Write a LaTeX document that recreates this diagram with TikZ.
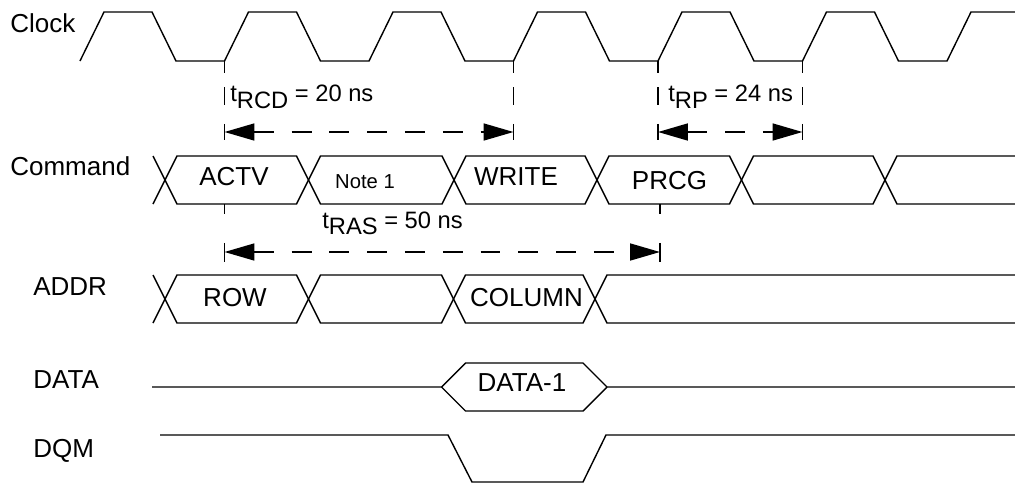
\documentclass[tikz,border=0pt]{standalone}
\usepackage{fontspec}
\setmainfont{Liberation Sans}
\usetikzlibrary{arrows.meta}

\begin{document}
\begin{tikzpicture}[
  x=0.02cm, y=-0.02cm,
  font=\fontsize{14.8}{17}\selectfont, >={Triangle[length=17pt,width=9.6pt]},
  sig/.style={anchor=base west, inner sep=0pt},
  val/.style={anchor=base, inner sep=0pt},
  tnote/.style={anchor=base west, inner sep=0pt, font=\fontsize{13.5}{16}\selectfont},
  wave/.style={line width=0.8pt, line join=miter},
  guide/.style={line width=1.1pt, dash pattern=on 6.8pt off 8pt on 10pt off 11pt on 10pt off 5pt},
  shortguide/.style={line width=1.1pt, dash pattern=on 5.7pt off 16.4pt on 11.3pt off 10pt},
  span/.style={<->, line width=1.1pt, dash pattern=on 11.3pt off 10.2pt},
]
\useasboundingbox (0,0) rectangle (1015,484);

% signal names
\node[sig] (clk)  at (10,32)  {Clock};
\node[sig] (cmd)  at (10,175) {Command};
\node[sig] (addr) at (33,295) {ADDR};
\node[sig] (data) at (33,388) {DATA};
\node[sig] (dqm)  at (33,457) {DQM};

% clock
\draw[wave] (80,61) -- (104,12) -- (152,12) -- (176,61) -- (224.5,61)
  -- (248.5,12) -- (296.5,12) -- (320.5,61) -- (369,61)
  -- (393,12) -- (441,12) -- (465,61) -- (513.5,61)
  -- (537.5,12) -- (585.5,12) -- (609.5,61) -- (658,61)
  -- (682,12) -- (730,12) -- (754,61) -- (802.5,61)
  -- (826.5,12) -- (874.5,12) -- (898.5,61) -- (947,61)
  -- (971,12) -- (1015,12);

% command bus
\draw[wave] (153,204) -- (177,156) -- (296.5,156) -- (320.5,204) -- (442,204) -- (466,156)
  -- (585,156) -- (609,204) -- (729.5,204) -- (753.5,156) -- (873,156) -- (897,204) -- (1015,204);
\draw[wave] (153,156) -- (177,204) -- (296.5,204) -- (320.5,156) -- (442,156) -- (466,204)
  -- (585,204) -- (609,156) -- (729.5,156) -- (753.5,204) -- (873,204) -- (897,156) -- (1015,156);
\node[val] (actv)  at (234,185)   {ACTV};
\node[val, font=\fontsize{11.5}{13}\selectfont] (note1) at (365,188) {Note 1};
\node[val] (write) at (516,185)   {WRITE};
\node[val] (prcg)  at (669.5,189) {PRCG};

% address bus
\draw[wave] (153,323) -- (177,275) -- (296.5,275) -- (320.5,323) -- (441.5,323) -- (465.5,275)
  -- (583,275) -- (607,323) -- (1015,323);
\draw[wave] (153,275) -- (177,323) -- (296.5,323) -- (320.5,275) -- (441.5,275) -- (465.5,323)
  -- (583,323) -- (607,275) -- (1015,275);
\node[val] (row)    at (235,306.5) {ROW};
\node[val] (column) at (526.5,306.5) {COLUMN};

% data
\draw[wave] (152,387) -- (441.5,387) -- (465.5,363) -- (583,363) -- (607,387) -- (1015,387);
\draw[wave] (441.5,387) -- (465.5,411) -- (583,411) -- (607,387);
\node[val] (data1) at (522,391.5) {DATA-1};

% dqm
\draw[wave] (160,435) -- (448,435) -- (472,482) -- (583,482) -- (606,435) -- (1015,435);

% timing
\coordinate (r1top) at (224.5,61);  \coordinate (r1bot) at (224.5,140);
\coordinate (r3top) at (513.5,61);  \coordinate (r3bot) at (513.5,140);
\coordinate (r4top) at (658,61);    \coordinate (r4bot) at (658,140);
\coordinate (r5top) at (802.5,61);  \coordinate (r5bot) at (802.5,140);
\coordinate (rcdL) at (224.5,132);  \coordinate (rcdR) at (513.5,132);
\coordinate (rpL)  at (658,132);    \coordinate (rpR)  at (802.5,132);
\coordinate (a1top) at (224.5,204); \coordinate (a1bot) at (224.5,262);
\coordinate (a2top) at (660,204);   \coordinate (a2bot) at (660,262);
\coordinate (rasL) at (224.5,252);  \coordinate (rasR) at (660,252);

\draw[guide] (r1top) -- (r1bot);
\draw[guide] (r3top) -- (r3bot);
\draw[guide] (r4top) -- (r4bot);
\draw[guide] (r5top) -- (r5bot);
\draw[shortguide] (a1top) -- (a1bot);
\draw[shortguide] (a2top) -- (a2bot);
\draw[span] (rcdL) -- (rcdR);
\draw[span] (rpL) -- (rpR);
\draw[span] (rasL) -- (rasR);

\node[tnote] (trcd) at (230,101.5) {t\raisebox{-0.55ex}{RCD} = 20 ns};
\node[tnote] (trp)  at (668,101.5) {t\raisebox{-0.55ex}{RP} = 24 ns};
\node[tnote] (tras) at (322,228)   {t\raisebox{-0.55ex}{RAS} = 50 ns};
\end{tikzpicture}
\end{document}
